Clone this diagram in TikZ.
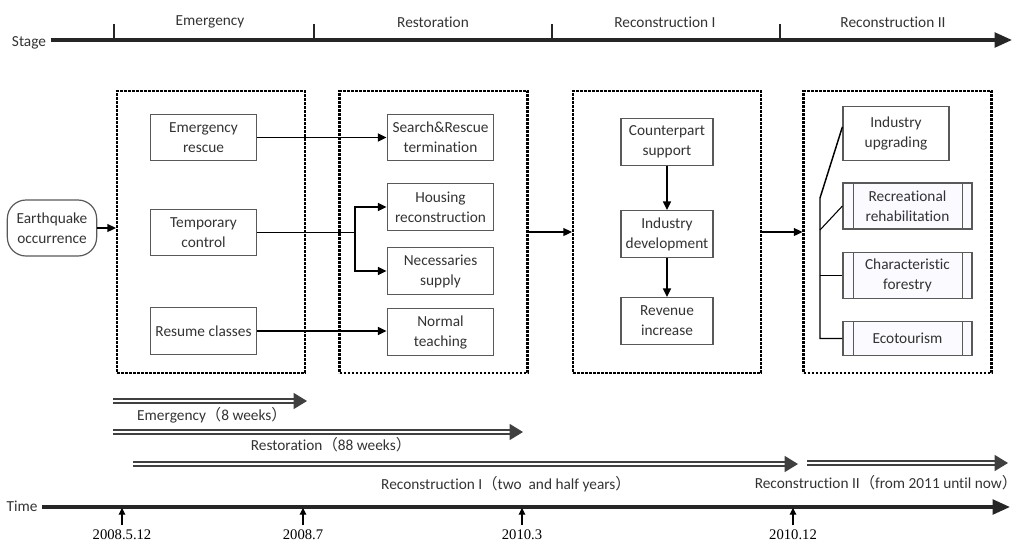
\documentclass[tikz,border=0pt]{standalone}
\usepackage{fontspec}
\setmainfont{Carlito}[Ligatures=NoCommon]
\newfontfamily\cjkfont{Noto Sans CJK SC}
\newfontfamily\datefont{Liberation Serif}
\usetikzlibrary{arrows.meta}

\begin{document}
\begin{tikzpicture}[x=0.75pt,y=-0.75pt,font=\fontsize{11.5}{15}\selectfont,text=black!80]
	\tikzset{box/.style={draw=black!65,line width=0.9pt,align=center,minimum width=80pt,minimum height=35pt,inner sep=1pt},
		grp/.style={draw,line width=1.6pt,dash pattern=on 2pt off 1pt,minimum width=141pt,minimum height=211.5pt},
		proc/.style={box,fill=blue!2,minimum width=96.75pt,minimum height=34.5pt,
			path picture={\draw[black!65,line width=0.7pt]
				([xshift=7.5pt]path picture bounding box.north west) -- ([xshift=7.5pt]path picture bounding box.south west)
				([xshift=-7.5pt]path picture bounding box.north east) -- ([xshift=-7.5pt]path picture bounding box.south east);}},
		conn/.style={line width=1.1pt,-{Triangle[length=6.5pt,width=6pt]}},
		bar/.style={draw=black!75,double,double distance=2pt,line width=0.9pt,-{Triangle[length=10pt,width=12pt]}},
		axis/.style={line width=2.4pt,draw=black!85,-{Triangle[length=13pt,width=11pt]}},
		date/.style={font=\datefont\fontsize{11}{13}\selectfont,text=black}}
	\useasboundingbox (0,0) rectangle (1026,544);
	\node (stg) at (29,43) {Stage};
	\coordinate (sEnd) at (1012,40);
	\draw[axis] (stg.east |- sEnd) -- (sEnd);
	\foreach \x in {114,314,552,780} \draw[line width=1pt,black!85] (\x,24) -- (\x,42);
	\node (sEmer) at (210,22) {Emergency};
	\node (sRest) at (433,22) {Restoration};
	\node (sRecI) at (665,22) {Reconstruction I};
	\node (sRecII) at (893,22) {Reconstruction II};
	\node[grp] (g1) at (211,232) {};
	\node[grp] (g2) at (433.5,232) {};
	\node[grp] (g3) at (667,232) {};
	\node[grp] (g4) at (897.5,232) {};
	\node[draw=black!65,line width=0.9pt,rounded corners=14pt,minimum width=67pt,minimum height=42pt,align=center,inner sep=1pt] (quake) at (52,228) {Earthquake\\occurrence};
	\node[box] (eresc) at (203.5,137.5) {Emergency\\rescue};
	\node[box] (tctrl) at (203.5,232.5) {Temporary\\control};
	\node[box] (rclass) at (203.5,331) {Resume classes};
	\node[box] (srterm) at (440.5,137.5) {Search\&Rescue\\termination};
	\node[box] (house) at (440.5,207) {Housing\\reconstruction};
	\node[box] (necess) at (440.5,271) {Necessaries\\supply};
	\node[box] (normteach) at (440.5,332) {Normal\\teaching};
	\node[box,minimum width=69pt] (cpsup) at (667,142) {Counterpart\\support};
	\node[box,minimum width=69pt] (inddev) at (667,234) {Industry\\development};
	\node[box,minimum width=69pt] (revinc) at (667,321) {Revenue\\increase};
	\node[box,minimum width=79.5pt,minimum height=41pt] (indup) at (896,133.5) {Industry\\upgrading};
	\node[proc] (recreh) at (907.5,206) {Recreational\\rehabilitation};
	\node[proc] (charfor) at (907.5,275.5) {Characteristic\\forestry};
	\node[proc,minimum height=26pt] (ecot) at (907.5,338.5) {Ecotourism};
	\draw[conn] (quake) -- (quake -| g1.west);
	\draw[conn] (eresc) -- (srterm);
	\coordinate (brn) at (355,232.5);
	\draw[line width=1.1pt] (tctrl) -- (brn);
	\draw[conn] (brn) |- (house);
	\draw[conn] (brn) |- (necess);
	\draw[conn] (rclass) -- (rclass -| normteach.west);
	\draw[conn] (g2) -- (g3);
	\draw[conn] (g3) -- (g4);
	\draw[conn] (cpsup) -- (inddev);
	\draw[conn] (inddev) -- (revinc);
	\coordinate (spn) at (820,198);
	\coordinate (rjn) at (820,230);
	\draw[line width=1.1pt] ([yshift=5pt]indup.west) -- (spn) |- (ecot.west);
	\draw[line width=0.8pt] (rjn) -- (recreh.west);
	\draw[line width=1.1pt] (charfor.west -| spn) -- (charfor.west);
	\coordinate (e0) at (113,401);
	\coordinate (e1) at (307,401);
	\draw[bar] (e0) -- (e1);
	\node (lEmer) at (212,415) {Emergency{\cjkfont （}8 weeks{\cjkfont ）}};
	\coordinate (r0) at (113,432);
	\coordinate (r1) at (523,432);
	\draw[bar] (r0) -- (r1);
	\node (lRest) at (331,445) {Restoration{\cjkfont （}88 weeks{\cjkfont ）}};
	\coordinate (c0) at (133,464);
	\coordinate (c1) at (798,464);
	\draw[bar] (c0) -- (c1);
	\node (lRecI) at (506,484) {Reconstruction I{\cjkfont （}two~ and half years{\cjkfont ）}};
	\coordinate (d0) at (807,463);
	\coordinate (d1) at (1008,463);
	\draw[bar] (d0) -- (d1);
	\node (lRecII) at (886,483) {Reconstruction II{\cjkfont （}from 2011 until now{\cjkfont ）}};
	\node (tm) at (22,506) {Time};
	\coordinate (tEnd) at (1010,507);
	\draw[axis] (tm.east |- tEnd) -- (tEnd);
	\foreach \x/\d [count=\i] in {122/2008.5.12,303/2008.7,522/2010.3,793/2010.12} {
		\node[date] (dt\i) at (\x,535) {\d};
		\draw[line width=0.8pt,-{Triangle[length=5pt,width=5pt]}] (dt\i.north) -- (\x,508);
	}
\end{tikzpicture}
\end{document}
